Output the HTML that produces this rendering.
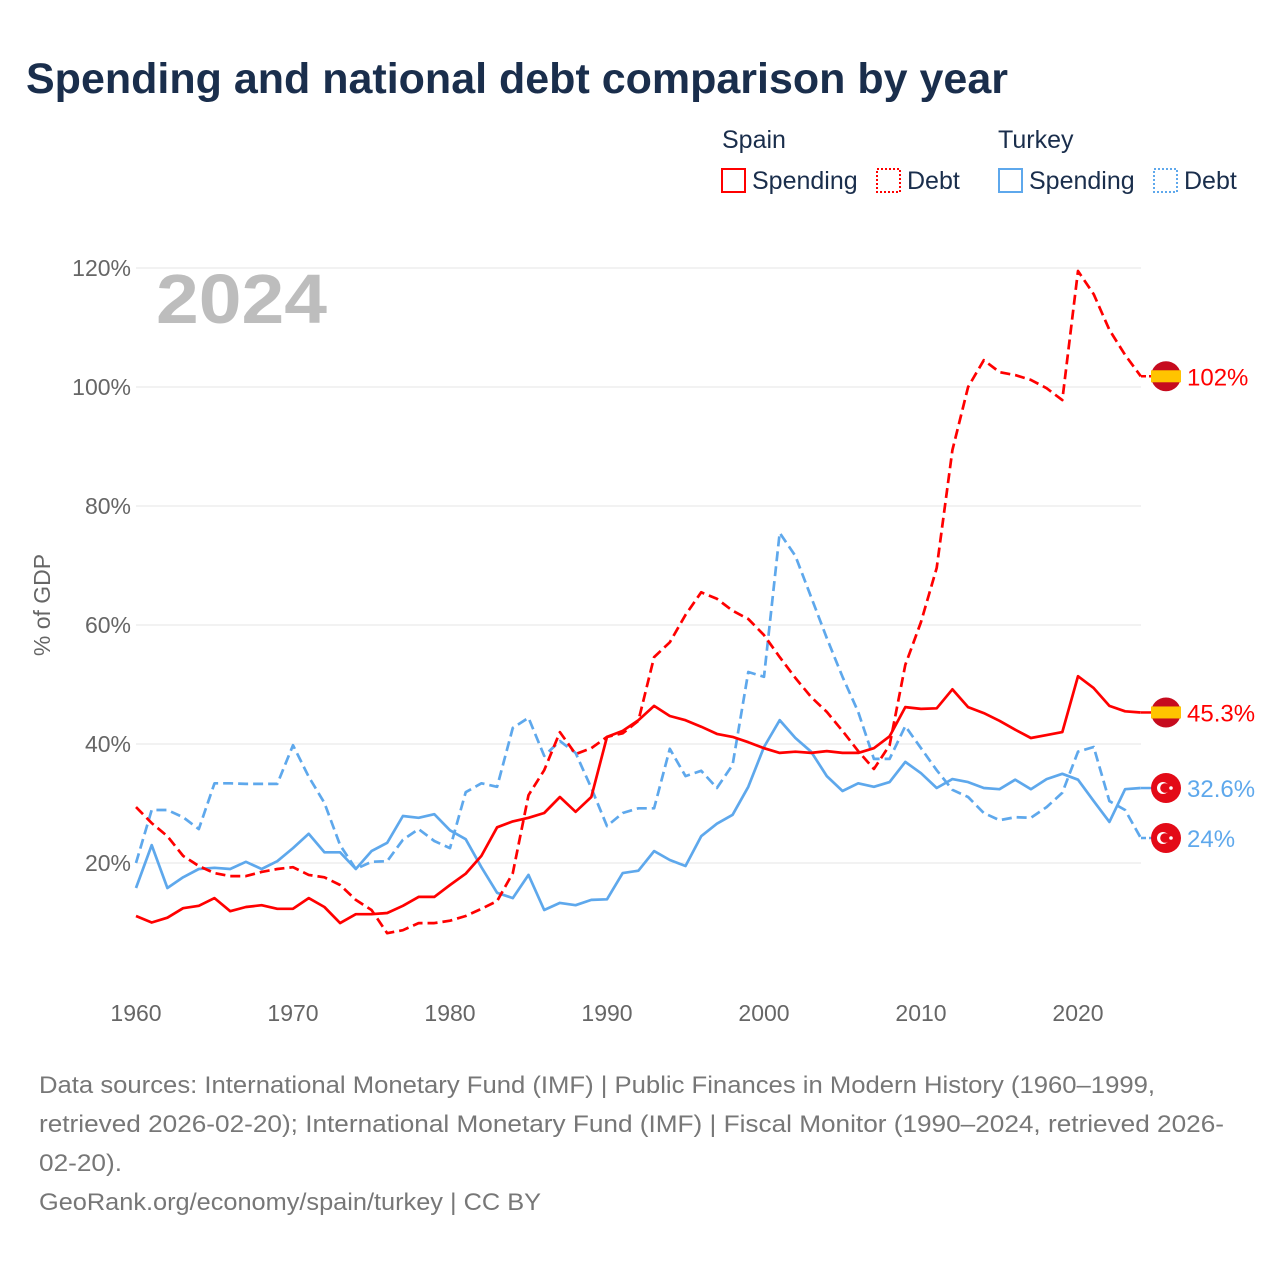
<!DOCTYPE html>
<html><head><meta charset="utf-8"><style>
body{margin:0;background:#fff;font-family:"Liberation Sans",sans-serif;}
#wrap{position:relative;width:1280px;height:1280px;overflow:hidden;background:#fff}
svg text{font-family:"Liberation Sans",sans-serif}
</style></head><body>
<div id="wrap">
<svg id="chart" width="1280" height="1280">
<text x="26" y="93" font-size="43" font-weight="bold" fill="#1a2e4c">Spending and national debt comparison by year</text>
<g>
<text x="722" y="148" font-size="25" fill="#1a2e4c">Spain</text>
<text x="998" y="148" font-size="25" fill="#1a2e4c">Turkey</text>
<g><rect x="722" y="169" width="23" height="23" fill="none" stroke="#ff0000" stroke-width="2"/><text x="752" y="189" font-size="25" fill="#1a2e4c">Spending</text></g>
<g><rect x="877" y="169" width="23" height="23" fill="none" stroke="#ff0000" stroke-width="2" stroke-dasharray="2,2"/><text x="907" y="189" font-size="25" fill="#1a2e4c">Debt</text></g>
<g><rect x="999" y="169" width="23" height="23" fill="none" stroke="#5ea8ec" stroke-width="2"/><text x="1029" y="189" font-size="25" fill="#1a2e4c">Spending</text></g>
<g><rect x="1154" y="169" width="23" height="23" fill="none" stroke="#5ea8ec" stroke-width="2" stroke-dasharray="2,2"/><text x="1184" y="189" font-size="25" fill="#1a2e4c">Debt</text></g>
</g>
<g id="grid"></g>
<text x="156" y="323" font-size="70" font-weight="bold" fill="#bdbdbd" textLength="171" lengthAdjust="spacingAndGlyphs">2024</text>
<text transform="translate(50,605) rotate(-90)" text-anchor="middle" font-size="23" fill="#666">% of GDP</text>
<g id="series"></g>
<g id="ends"></g>
<g font-size="24" fill="#777">
<text x="39" y="1093" textLength="1116" lengthAdjust="spacingAndGlyphs">Data sources: International Monetary Fund (IMF) | Public Finances in Modern History (1960–1999,</text>
<text x="39" y="1132" textLength="1185" lengthAdjust="spacingAndGlyphs">retrieved 2026-02-20); International Monetary Fund (IMF) | Fiscal Monitor (1990–2024, retrieved 2026-</text>
<text x="39" y="1171" textLength="83" lengthAdjust="spacingAndGlyphs">02-20).</text>
<text x="39" y="1210" textLength="502" lengthAdjust="spacingAndGlyphs">GeoRank.org/economy/spain/turkey | CC BY</text>
</g>
</svg></div>
<script>
const startYear=1960;
const yTicks=[20,40,60,80,100,120];
const xTicks=[1960,1970,1980,1990,2000,2010,2020];
const spainSpending=[11.1,10,10.8,12.4,12.8,14.1,11.9,12.6,12.9,12.3,12.3,14.1,12.6,9.9,11.4,11.4,11.6,12.8,14.3,14.3,16.3,18.2,21.2,26,27,27.6,28.4,31.1,28.6,31.1,41.2,42.2,44,46.4,44.7,44,42.9,41.7,41.2,40.3,39.3,38.5,38.7,38.5,38.8,38.5,38.5,39.3,41.3,46.2,45.9,46,49.2,46.2,45.2,43.9,42.4,41,41.5,42,51.4,49.4,46.4,45.5,45.3];
const spainDebt=[29.4,26.7,24.5,21.2,19.5,18.3,17.8,17.8,18.5,19,19.3,18,17.6,16.3,13.8,12.1,8.2,8.7,9.9,9.9,10.3,11.1,12.3,13.6,18.3,31.4,35.6,42,38.3,39.3,41.2,41.8,43.9,54.6,57.1,61.7,65.5,64.4,62.4,61,58.3,54.6,51.1,47.9,45.4,42.2,38.8,35.8,39.8,53.3,60.5,69.6,89.4,100,104.5,102.5,102,101.2,99.8,97.8,119.5,115.6,109.6,105.4,101.8];
const turkeySpending=[15.8,23,15.8,17.6,19,19.2,19,20.2,19,20.3,22.5,24.9,21.8,21.8,19,22,23.4,27.9,27.6,28.2,25.5,24,19.3,15,14.1,18,12.1,13.3,12.9,13.8,13.9,18.3,18.7,22,20.5,19.5,24.5,26.6,28.1,32.8,39.5,44,41,38.7,34.6,32.1,33.4,32.8,33.6,37,35.1,32.6,34.1,33.6,32.6,32.4,34,32.4,34.1,35,34,30.4,26.9,32.4,32.6];
const turkeyDebt=[20,28.9,28.9,27.7,25.7,33.4,33.4,33.3,33.3,33.3,39.8,34.5,30.1,23,19,20.2,20.3,23.9,25.7,23.7,22.5,31.9,33.4,32.8,42.7,44.4,38,40.5,38.5,32.6,26.2,28.4,29.2,29.2,39.2,34.6,35.5,32.6,36.5,52.1,51.3,75.5,71.6,64.7,57.8,51.3,45.4,37.5,37.5,43,39.3,35.6,32.3,31.1,28.4,27.2,27.7,27.6,29.4,31.8,38.7,39.5,30.4,28.9,24.2];
const endLabels=["102%","45.3%","32.6%","24%"];
const NS="http://www.w3.org/2000/svg";
const xS=y=>136+(y-1960)*15.7;
const yS=v=>982-v*5.95;
function mk(t,a,p){const e=document.createElementNS(NS,t);for(const k in a)e.setAttribute(k,a[k]);p.appendChild(e);return e;}
const grid=document.getElementById('grid');
yTicks.forEach(v=>{
 const l=mk('line',{x1:136,x2:1141,y1:yS(v),y2:yS(v),stroke:'#e6e6e6','stroke-width':1},grid);
 
 
 const t=mk('text',{x:131,y:yS(v)+8,'text-anchor':'end','font-size':23,fill:'#666'},grid);
 t.textContent=v+'%';
 
 
});
xTicks.forEach(y=>{
 const t=mk('text',{x:xS(y),y:1021,'text-anchor':'middle','font-size':23,fill:'#666'},grid);
 t.textContent=y;
 
 
});
const ser=document.getElementById('series');
function line(arr,col,dash,name){
 const d=arr.map((v,i)=>(i?'L':'M')+xS(startYear+i).toFixed(1)+','+yS(v).toFixed(1)).join('');
 const p=mk('path',{d:d,fill:'none',stroke:col,'stroke-width':2.7,'stroke-linejoin':'round'},ser);
 if(dash)p.setAttribute('stroke-dasharray','10,5');
 
 
}
line(turkeyDebt,'#5ea8ec',true,'turkey-debt-line');
line(turkeySpending,'#5ea8ec',false,'turkey-spending-line');
line(spainDebt,'#ff0000',true,'spain-debt-line');
line(spainSpending,'#ff0000',false,'spain-spending-line');
const ends=document.getElementById('ends');
const endVals=[spainDebt[64],spainSpending[64],turkeySpending[64],turkeyDebt[64]];
const endCols=['#ff0000','#ff0000','#5ea8ec','#5ea8ec'];
endVals.forEach((v,i)=>{
 const y=yS(v);const g=mk('g',{},ends);
 
 
 mk('line',{x1:1141,x2:1152,y1:y,y2:y,stroke:endCols[i],'stroke-width':2.5,'stroke-dasharray':i==0||i==3?'5,3':''},g);
 if(i<2){
  mk('circle',{cx:1166,cy:y,r:15,fill:'#c60b1e'},g);
  mk('rect',{x:1151,y:y-6,width:30,height:12,fill:'#ffc400'},g);
 } else {
  mk('circle',{cx:1166,cy:y,r:15,fill:'#e30a17'},g);
  mk('circle',{cx:1163,cy:y,r:6,fill:'#fff'},g);
  mk('circle',{cx:1165,cy:y,r:4.8,fill:'#e30a17'},g);
  mk('circle',{cx:1171,cy:y,r:1.8,fill:'#fff'},g);
 }
 const t=mk('text',{x:1187,y:y+9,'font-size':24,fill:endCols[i]},g);
 t.textContent=endLabels[i];
});
</script>
</body></html>
